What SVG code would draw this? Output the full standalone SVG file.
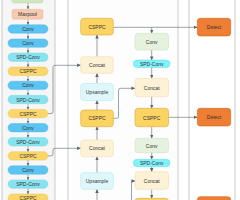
<svg xmlns="http://www.w3.org/2000/svg" width="240" height="200" viewBox="0 0 240 200">
<defs>
<marker id="ah" markerUnits="userSpaceOnUse" markerWidth="4" markerHeight="4" viewBox="0 0 4 4" refX="3.6" refY="2" orient="auto">
<path d="M0,0.3 L4,2 L0,3.7 Z" fill="#5a6470"/>
</marker>
<marker id="as" markerUnits="userSpaceOnUse" markerWidth="3" markerHeight="3" viewBox="0 0 4 4" refX="3.6" refY="2" orient="auto">
<path d="M0,0.3 L4,2 L0,3.7 Z" fill="#5a6470"/>
</marker>
</defs>
<style>
text{font-family:"Liberation Sans",Arial,sans-serif;font-size:5px;fill:#333;text-anchor:middle;dominant-baseline:central}
.panel{stroke:#b4b4b4;stroke-width:0.7}
.conv{fill:#5bc4f2;stroke:#45b0e0;stroke-width:0.4}
.spd{fill:#86e3f0;stroke:#6fd2e2;stroke-width:0.4}
.csp{fill:#fbd66a;stroke:#e8be4a;stroke-width:0.4}
.ncsp{fill:#fcd463;stroke:#d9a935;stroke-width:0.6}
.cat{fill:#fdf1d6;stroke:#f1deb0;stroke-width:0.6}
.ups{fill:#dff7fb;stroke:#b6e9f2;stroke-width:0.6}
.nconv{fill:#e6f1e0;stroke:#cde3c2;stroke-width:0.6}
.nspd{fill:#7ff2fa;stroke:#5fdbe8;stroke-width:0.5}
.det{fill:#ee7e33;stroke:#cf6420;stroke-width:0.6}
.mp{fill:#f6c9b0;stroke:#e9b094;stroke-width:0.4}
.top{fill:#cfe6bf;stroke:#b3d49d;stroke-width:0.4}
.ln{fill:none;stroke:#5a6470;stroke-width:0.6}
.sl{fill:none;stroke:#5a6470;stroke-width:0.5}
</style>
<rect class="panel" x="2" y="-5" width="53" height="210" fill="#f6f6f6"/>
<rect class="panel" x="68" y="-5" width="110" height="210" fill="#fdfdfd"/>
<rect class="panel" x="189" y="-5" width="46" height="210" fill="#ffffff"/>
<g id="connectors">
<path class="sl" d="M28,3 V9" marker-end="url(#as)"/>
<path class="sl" d="M28,19.3 V24.8" marker-end="url(#as)"/>
<path class="sl" d="M28,33.2 V38.9" marker-end="url(#as)"/>
<path class="sl" d="M28,47.3 V53" marker-end="url(#as)"/>
<path class="sl" d="M28,61.4 V67.1" marker-end="url(#as)"/>
<path class="sl" d="M28,75.5 V81.2" marker-end="url(#as)"/>
<path class="sl" d="M28,89.6 V95.3" marker-end="url(#as)"/>
<path class="sl" d="M28,103.7 V109.4" marker-end="url(#as)"/>
<path class="sl" d="M28,117.8 V123.5" marker-end="url(#as)"/>
<path class="sl" d="M28,131.9 V137.6" marker-end="url(#as)"/>
<path class="sl" d="M28,146 V151.7" marker-end="url(#as)"/>
<path class="sl" d="M28,160.1 V165.8" marker-end="url(#as)"/>
<path class="sl" d="M28,174.2 V179.9" marker-end="url(#as)"/>
<path class="sl" d="M28,188.3 V194" marker-end="url(#as)"/>
<path class="ln" d="M48,113.6 H51 Q53,113.6 53,111.6 V67.3 Q53,65.3 55,65.3 H80.7" marker-end="url(#ah)"/>
<path class="ln" d="M48,155.9 H51 Q53,155.9 53,153.9 V150.3 Q53,148.3 55,148.3 H80.7" marker-end="url(#ah)"/>
<path class="ln" d="M97,56.7 V35" marker-end="url(#ah)"/>
<path class="ln" d="M97,83.5 V73.3" marker-end="url(#ah)"/>
<path class="ln" d="M97,110 V100.5" marker-end="url(#ah)"/>
<path class="ln" d="M97,140 V126.7" marker-end="url(#ah)"/>
<path class="ln" d="M97,172.7 V156.7" marker-end="url(#ah)"/>
<path class="ln" d="M97,205 V189.3" marker-end="url(#ah)"/>
<path class="ln" d="M113.3,27.3 H197.3" marker-end="url(#ah)"/>
<path class="ln" d="M151.7,27.3 V33.3" marker-end="url(#ah)"/>
<path class="ln" d="M113.3,118.3 H116.5 Q118.5,118.3 118.5,116.3 V90.3 Q118.5,88.3 120.5,88.3 H135" marker-end="url(#ah)"/>
<path class="ln" d="M151.7,50 V60" marker-end="url(#ah)"/>
<path class="ln" d="M151.7,67.5 V78.3" marker-end="url(#ah)"/>
<path class="ln" d="M151.7,96.7 V108.3" marker-end="url(#ah)"/>
<path class="ln" d="M168.5,117.3 H197.3" marker-end="url(#ah)"/>
<path class="ln" d="M151.7,126.7 V138.3" marker-end="url(#ah)"/>
<path class="ln" d="M151.7,152.7 V159.3" marker-end="url(#ah)"/>
<path class="ln" d="M151.7,166.7 V171.7" marker-end="url(#ah)"/>
<path class="ln" d="M151.7,189.3 V198.3" marker-end="url(#ah)"/>
<path class="ln" d="M131.5,205 V183 Q131.5,181 133.5,181 H135" marker-end="url(#ah)"/>
</g>
<g id="b_top"><rect class="top" x="12" y="-8" width="31" height="11" rx="2"/></g>
<g id="b_maxpool"><rect class="mp" x="12" y="9.3" width="31" height="10" rx="2"/><text x="27.5" y="14.3">Maxpool</text></g>
<g id="b_conv1"><rect class="conv" x="8" y="24.8" width="40" height="8.4" rx="4.2"/><text x="28" y="29">Conv</text></g>
<g id="b_conv2"><rect class="conv" x="8" y="38.9" width="40" height="8.4" rx="4.2"/><text x="28" y="43.1">Conv</text></g>
<g id="b_spd1"><rect class="spd" x="8" y="53" width="40" height="8.4" rx="4.2"/><text x="28" y="57.2">SPD-Conv</text></g>
<g id="b_csppc1"><rect class="csp" x="8" y="67.1" width="40" height="8.4" rx="4.2"/><text x="28" y="71.3">CSPPC</text></g>
<g id="b_conv3"><rect class="conv" x="8" y="81.2" width="40" height="8.4" rx="4.2"/><text x="28" y="85.4">Conv</text></g>
<g id="b_spd2"><rect class="spd" x="8" y="95.3" width="40" height="8.4" rx="4.2"/><text x="28" y="99.5">SPD-Conv</text></g>
<g id="b_csppc2"><rect class="csp" x="8" y="109.4" width="40" height="8.4" rx="4.2"/><text x="28" y="113.6">CSPPC</text></g>
<g id="b_conv4"><rect class="conv" x="8" y="123.5" width="40" height="8.4" rx="4.2"/><text x="28" y="127.7">Conv</text></g>
<g id="b_spd3"><rect class="spd" x="8" y="137.6" width="40" height="8.4" rx="4.2"/><text x="28" y="141.8">SPD-Conv</text></g>
<g id="b_csppc3"><rect class="csp" x="8" y="151.7" width="40" height="8.4" rx="4.2"/><text x="28" y="155.9">CSPPC</text></g>
<g id="b_conv5"><rect class="conv" x="8" y="165.8" width="40" height="8.4" rx="4.2"/><text x="28" y="170">Conv</text></g>
<g id="b_spd4"><rect class="spd" x="8" y="179.9" width="40" height="8.4" rx="4.2"/><text x="28" y="184.1">SPD-Conv</text></g>
<g id="b_csppc4"><rect class="csp" x="8" y="194" width="40" height="8.4" rx="4.2"/><text x="28" y="198.2">CSPPC</text></g>
<g id="n_csppc1"><rect class="ncsp" x="80.7" y="18.3" width="32.6" height="16.7" rx="3"/><text x="97" y="26.7">CSPPC</text></g>
<g id="n_concat1"><rect class="cat" x="80.7" y="56.7" width="32.6" height="16.6" rx="3"/><text x="97" y="65">Concat</text></g>
<g id="n_upsample1"><rect class="ups" x="80.7" y="83.5" width="32.6" height="17" rx="3"/><text x="97" y="92">Upsample</text></g>
<g id="n_csppc2"><rect class="ncsp" x="80.7" y="110" width="32.6" height="16.7" rx="3"/><text x="97" y="118.3">CSPPC</text></g>
<g id="n_concat2"><rect class="cat" x="80.7" y="140" width="32.6" height="16.7" rx="3"/><text x="97" y="148.3">Concat</text></g>
<g id="n_upsample2"><rect class="ups" x="80.7" y="172.7" width="32.6" height="16.6" rx="3"/><text x="97" y="181">Upsample</text></g>
<g id="n_conv1"><rect class="nconv" x="135" y="33.3" width="33.5" height="16.7" rx="3"/><text x="151.7" y="41.7">Conv</text></g>
<g id="n_spd1"><rect class="nspd" x="133.3" y="60" width="36.7" height="7.5" rx="3.75"/><text x="151.7" y="63.8">SPD-Conv</text></g>
<g id="n_concat3"><rect class="cat" x="135" y="78.3" width="33.5" height="18.4" rx="3"/><text x="151.7" y="87.5">Concat</text></g>
<g id="n_csppc3"><rect class="ncsp" x="135" y="108.3" width="33.5" height="18.4" rx="3"/><text x="151.7" y="117.5">CSPPC</text></g>
<g id="n_conv2"><rect class="nconv" x="135" y="138.3" width="33.5" height="14.4" rx="3"/><text x="151.7" y="145.5">Conv</text></g>
<g id="n_spd2"><rect class="nspd" x="133.3" y="159.3" width="36.7" height="7.4" rx="3.7"/><text x="151.7" y="163">SPD-Conv</text></g>
<g id="n_concat4"><rect class="cat" x="135" y="171.7" width="33.5" height="17.6" rx="3"/><text x="151.7" y="180.5">Concat</text></g>
<g id="n_csppc4"><rect class="ncsp" x="135" y="198.3" width="33.5" height="17" rx="3"/></g>
<g id="h_detect1"><rect class="det" x="197.3" y="18.3" width="33.4" height="17.7" rx="3"/><text x="214" y="27.2">Detect</text></g>
<g id="h_detect2"><rect class="det" x="197.3" y="108.3" width="33.4" height="17.7" rx="3"/><text x="214" y="117.2">Detect</text></g>
<g id="h_detect3"><rect class="det" x="197.3" y="196.7" width="33.4" height="17.7" rx="3"/></g>
</svg>
